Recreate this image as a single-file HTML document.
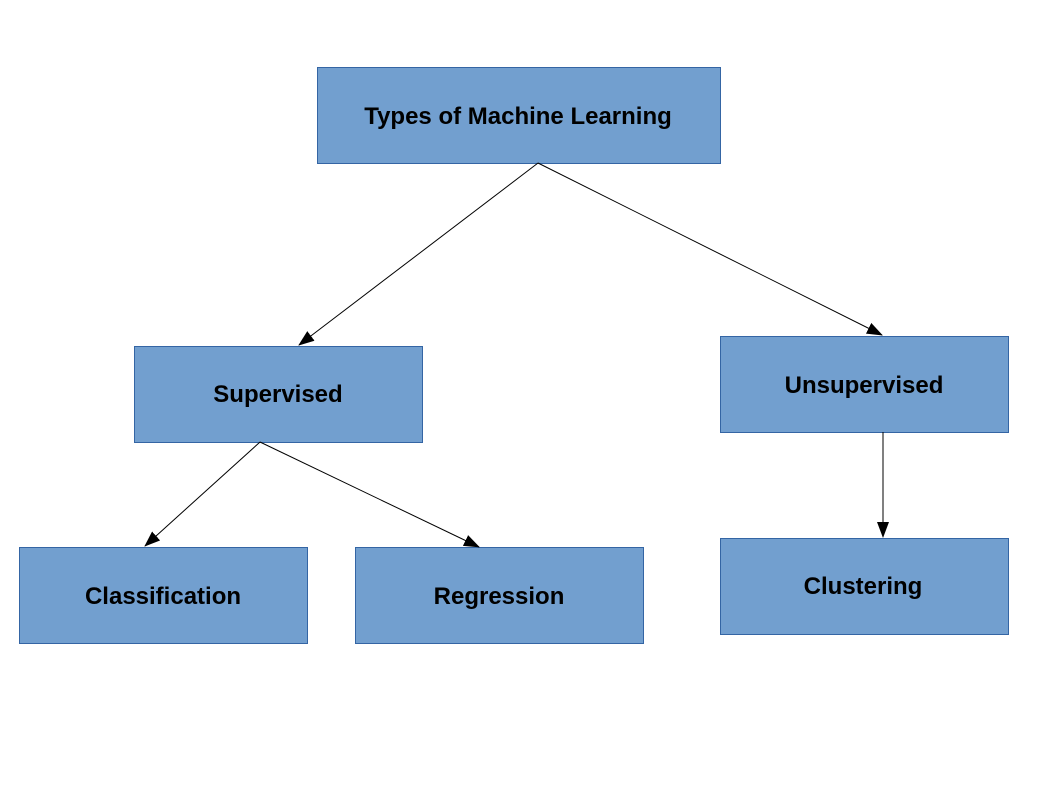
<!DOCTYPE html>
<html><head><style>
body{margin:0;background:#fff;width:1058px;height:794px;overflow:hidden}
</style></head><body>
<svg width="1058" height="794" xmlns="http://www.w3.org/2000/svg" style="position:absolute;left:0;top:0">
<defs><marker id="a" markerWidth="16" markerHeight="12" refX="15" refY="6" orient="auto" markerUnits="userSpaceOnUse"><path d="M0,0 L16,6 L0,12 Z" fill="#000"/></marker></defs>
<g fill="#729fcf" stroke="#3465a4" stroke-width="1">
<rect x="317.5" y="67.5" width="403" height="96"/>
<rect x="134.5" y="346.5" width="288" height="96"/>
<rect x="720.5" y="336.5" width="288" height="96"/>
<rect x="19.5" y="547.5" width="288" height="96"/>
<rect x="355.5" y="547.5" width="288" height="96"/>
<rect x="720.5" y="538.5" width="288" height="96"/>
</g>
<g stroke="#000" stroke-width="1" marker-end="url(#a)">
<line x1="538" y1="163" x2="299" y2="345"/>
<line x1="538" y1="163" x2="882" y2="335"/>
<line x1="260" y1="442" x2="145" y2="546"/>
<line x1="260" y1="442" x2="479" y2="547"/>
<line x1="883" y1="432" x2="883" y2="537"/>
</g>
<g font-family="Liberation Sans, sans-serif" font-weight="bold" font-size="24" text-anchor="middle" fill="#000">
<text x="518" y="124">Types of Machine Learning</text>
<text x="278" y="402">Supervised</text>
<text x="864" y="393">Unsupervised</text>
<text x="163" y="604">Classification</text>
<text x="499" y="604">Regression</text>
<text x="863" y="594">Clustering</text>
</g>
</svg>
</body></html>
